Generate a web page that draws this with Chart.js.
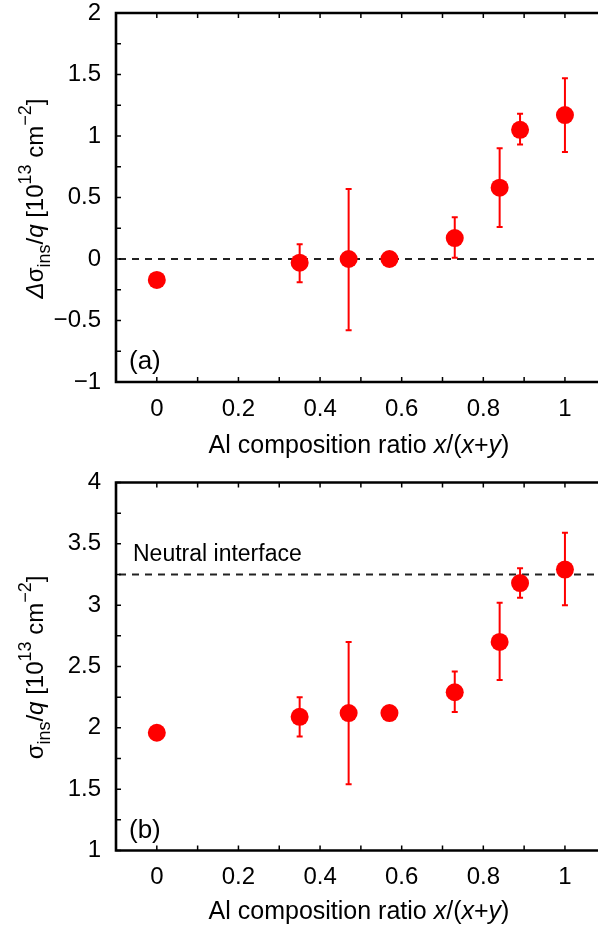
<!DOCTYPE html>
<html>
<head>
<meta charset="utf-8">
<script src="https://cdn.jsdelivr.net/npm/chart.js@4.4.0/dist/chart.umd.min.js"></script>
<style>
html, body { margin: 0; padding: 0; background: #fff; overflow: hidden; }
.panel { position: relative; width: 598px; height: 466px; }
</style>
</head>
<body>
<div class="panel"><canvas id="chartA"></canvas></div>
<div class="panel"><canvas id="chartB"></canvas></div>
<script>
"use strict"

//data
const xValues = [0, 0.35, 0.47, 0.57, 0.73, 0.84, 0.89, 1.0];

//(a) delta sigma_ins / q
const deltaSigma = [-0.17, -0.03, 0.0, 0.0, 0.17, 0.58, 1.05, 1.17];
const deltaSigmaLow = [null, -0.19, -0.58, null, 0.01, 0.26, 0.93, 0.87];
const deltaSigmaHigh = [null, 0.12, 0.57, null, 0.34, 0.90, 1.18, 1.47];

//(b) sigma_ins / q
const sigma = [1.96, 2.09, 2.12, 2.12, 2.29, 2.70, 3.18, 3.29];
const sigmaLow = [null, 1.93, 1.54, null, 2.13, 2.39, 3.06, 3.00];
const sigmaHigh = [null, 2.25, 2.70, null, 2.46, 3.02, 3.30, 3.59];

//axes
const xTicks = [0, 0.2, 0.4, 0.6, 0.8, 1];
const xMinorTicks = [0.1, 0.3, 0.5, 0.7, 0.9];
const yTicksA = [-1, -0.5, 0, 0.5, 1, 1.5, 2];
const yTicksB = [1, 1.5, 2, 2.5, 3, 3.5, 4];
const refLineA = 0;
const refLineB = 3.25;

const xTitle = [
    { t: "Al composition ratio " }, { t: "x", it: true }, { t: "/(" },
    { t: "x", it: true }, { t: "+" }, { t: "y", it: true }, { t: ")" }
];
const yTitleA = [
    { t: "Δ", it: true }, { t: "σ" }, { t: "ins", sub: true }, { t: "/" }, { t: "q", it: true },
    { t: " [10" }, { t: "13", sup: true }, { t: " cm" }, { t: "−2", sup: true }, { t: "]" }
];
const yTitleB = [
    { t: "σ" }, { t: "ins", sub: true }, { t: "/" }, { t: "q", it: true },
    { t: " [10" }, { t: "13", sup: true }, { t: " cm" }, { t: "−2", sup: true }, { t: "]" }
];

const RED = "#ff0000";
const FAMILY = "'Liberation Sans', Arial, sans-serif";
const TEXT = "#000";
const LABEL_FONT = 24;  //font size of the tick labels

function fontFor(part, size) {
    const s = (part.sub || part.sup) ? Math.round(size * 0.75) : size;
    return (part.it ? "italic " : "") + s + "px " + FAMILY;
}

//skriver text med sub/sup, centrerad kring x
function drawRich(ctx, parts, x, y, size) {
    let total = 0;
    parts.forEach(p => { ctx.font = fontFor(p, size); total += ctx.measureText(p.t).width; });
    let cx = x - total / 2;
    parts.forEach(p => {
        ctx.font = fontFor(p, size);
        const dy = p.sub ? size * 0.3 : p.sup ? -size * 0.5 : 0;
        ctx.fillText(p.t, cx, y + dy);
        cx += ctx.measureText(p.t).width;
    });
}

function makeDeco(p) {
    return {
        id: "panelDeco",
        beforeDatasetsDraw(chart) {
            const ctx = chart.ctx;
            const area = chart.chartArea;
            const xs = chart.scales.x;
            const ys = chart.scales.y;

            //dashed reference line
            ctx.save();
            ctx.strokeStyle = "#222";
            ctx.lineWidth = 1.8;
            ctx.setLineDash([7, 6]);
            const yl = ys.getPixelForValue(p.refLine);
            ctx.beginPath();
            ctx.moveTo(area.left + 3, yl);
            ctx.lineTo(area.right, yl);
            ctx.stroke();
            ctx.restore();

            //error bars
            ctx.save();
            ctx.strokeStyle = RED;
            ctx.lineWidth = 2;
            p.x.forEach((xv, i) => {
                if (p.low[i] === null) return;
                const px = xs.getPixelForValue(xv);
                const y1 = ys.getPixelForValue(p.low[i]);
                const y2 = ys.getPixelForValue(p.high[i]);
                ctx.beginPath();
                ctx.moveTo(px, y1); ctx.lineTo(px, y2);
                ctx.moveTo(px - 3, y1); ctx.lineTo(px + 3, y1);
                ctx.moveTo(px - 3, y2); ctx.lineTo(px + 3, y2);
                ctx.stroke();
            });
            ctx.restore();
        },
        afterDraw(chart) {
            const ctx = chart.ctx;
            const area = chart.chartArea;
            const xs = chart.scales.x;
            const ys = chart.scales.y;

            ctx.save();
            //ticks pointing inwards
            ctx.strokeStyle = "#000";
            ctx.lineWidth = 1.5;
            ctx.beginPath();
            xTicks.concat(xMinorTicks).forEach(v => {
                const px = xs.getPixelForValue(v);
                ctx.moveTo(px, area.bottom); ctx.lineTo(px, area.bottom - 5);
                ctx.moveTo(px, area.top); ctx.lineTo(px, area.top + 5);
            });
            for (let i = 0; i < p.yTicks.length; i++) {
                const v = p.yTicks[i];
                let py = ys.getPixelForValue(v);
                ctx.moveTo(area.left, py); ctx.lineTo(area.left + 5, py);
                if (i < p.yTicks.length - 1) {
                    py = ys.getPixelForValue((v + p.yTicks[i + 1]) / 2);
                    ctx.moveTo(area.left, py); ctx.lineTo(area.left + 5, py);
                }
            }
            ctx.stroke();

            //frame, right side falls outside the picture
            ctx.lineWidth = 2.6;
            ctx.beginPath();
            ctx.moveTo(chart.width + 2, area.top);
            ctx.lineTo(area.left, area.top);
            ctx.lineTo(area.left, area.bottom);
            ctx.lineTo(chart.width + 2, area.bottom);
            ctx.stroke();

            //texts
            ctx.fillStyle = TEXT;
            ctx.textBaseline = "alphabetic";
            ctx.textAlign = "left";
            ctx.font = "26px " + FAMILY;
            ctx.fillText(p.label, area.left + 13, area.bottom - 13);
            if (p.note) {
                ctx.font = "23px " + FAMILY;
                ctx.fillText(p.note, area.left + 17, ys.getPixelForValue(p.refLine) - 14);
            }
            drawRich(ctx, xTitle, (area.left + area.right) / 2 + 2, chart.height - 13, 25);

            ctx.translate(43, (area.top + area.bottom) / 2 + 1);
            ctx.rotate(-Math.PI / 2);
            drawRich(ctx, p.yTitle, 0, 0, 24);
            ctx.restore();
        }
    };
}

function makePanel(canvasEl, p) {
    const points = p.x.map((xv, i) => ({ x: xv, y: p.y[i] }));
    return new Chart(canvasEl, {
        type: "scatter",
        data: {
            datasets: [{
                data: points,
                backgroundColor: RED,
                borderWidth: 0,
                pointRadius: 9,
                pointHoverRadius: 9
            }]
        },
        options: {
            responsive: true,
            maintainAspectRatio: false,
            animation: false,
            layout: { autoPadding: false, padding: { top: p.top, left: 0, right: 0, bottom: 0 } },
            plugins: { legend: { display: false }, tooltip: { enabled: false } },
            scales: {
                x: {
                    type: "linear",
                    min: -0.1,
                    max: 1.081,
                    grid: { display: false, drawTicks: false },
                    border: { display: false },
                    afterBuildTicks: s => { s.ticks = xTicks.map(v => ({ value: v })); },
                    afterFit: s => {
                        s.height = p.xAxisHeight;
                        s.paddingLeft = 0;
                        s.paddingRight = 0;
                    },
                    ticks: {
                        autoSkip: false,
                        maxRotation: 0,
                        padding: 15,
                        color: TEXT,
                        font: { family: FAMILY, size: LABEL_FONT, lineHeight: 1 },
                        callback: v => String(v)
                    }
                },
                y: {
                    type: "linear",
                    min: p.yTicks[0],
                    max: p.yTicks[p.yTicks.length - 1],
                    grid: { display: false, drawTicks: false },
                    border: { display: false },
                    afterBuildTicks: s => { s.ticks = p.yTicks.map(v => ({ value: v })); },
                    afterFit: s => {
                        s.width = 116;
                        s.paddingTop = 0;
                        s.paddingBottom = 0;
                    },
                    ticks: {
                        padding: 15,
                        color: TEXT,
                        font: { family: FAMILY, size: LABEL_FONT, lineHeight: 1 },
                        callback: v => String(v).replace("-", "−")
                    }
                }
            }
        },
        plugins: [makeDeco(p)]
    });
}

makePanel(document.getElementById("chartA"), {
    x: xValues, y: deltaSigma, low: deltaSigmaLow, high: deltaSigmaHigh,
    yTicks: yTicksA, refLine: refLineA, yTitle: yTitleA, label: "(a)", note: null,
    top: 13, xAxisHeight: 84
});

makePanel(document.getElementById("chartB"), {
    x: xValues, y: sigma, low: sigmaLow, high: sigmaHigh,
    yTicks: yTicksB, refLine: refLineB, yTitle: yTitleB, label: "(b)", note: "Neutral interface",
    top: 16.5, xAxisHeight: 81.5
});
</script>
</body>
</html>
